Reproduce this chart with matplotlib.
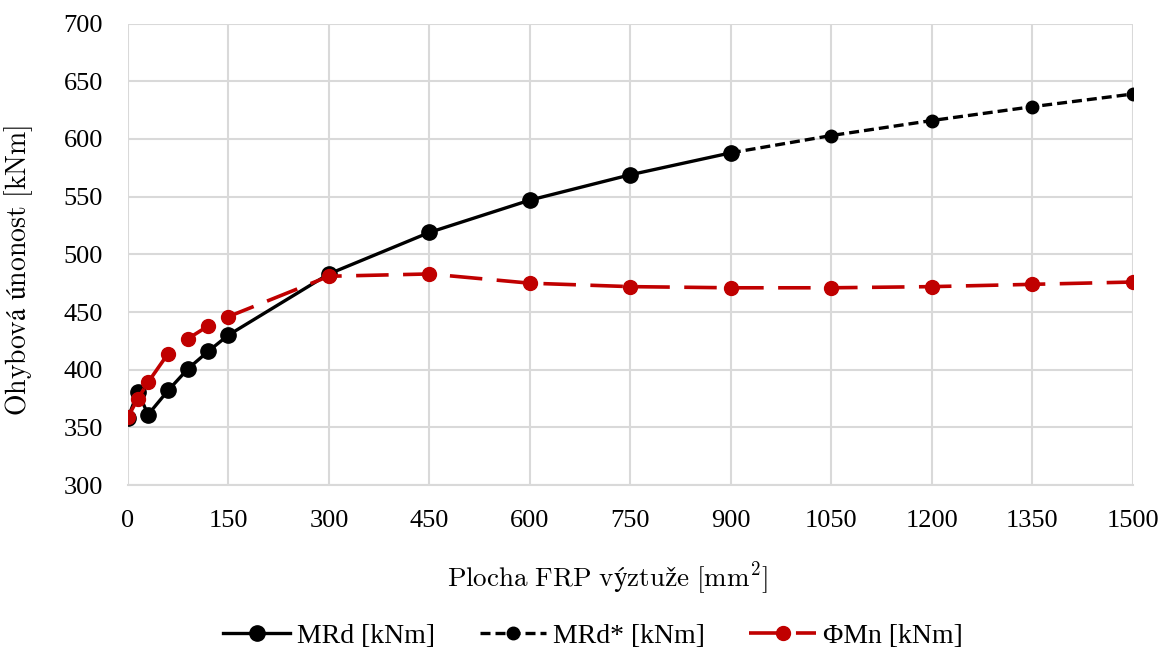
import numpy as np
import matplotlib.pyplot as plt

plt.rcParams['font.family'] = ['Liberation Serif', 'DejaVu Serif']
plt.rcParams['mathtext.fontset'] = 'cm'

# data
x_mrd = [0, 15, 30, 60, 90, 120, 150, 300, 450, 600, 750, 900]
y_mrd = [358, 381, 361, 382, 401, 416, 430, 483, 519, 547, 569, 588]

x_mrd_star = [900, 1050, 1200, 1350, 1500]
y_mrd_star = [588, 603, 616, 628, 639]

x_phi = [0, 15, 30, 60, 90, 120, 150, 300, 450, 600, 750, 900, 1050, 1200, 1350, 1500]
y_phi = [359, 375, 389, 414, 427, 438, 446, 481, 483, 475, 472, 471, 471, 472, 474, 476]

x_ticks = [0, 150, 300, 450, 600, 750, 900, 1050, 1200, 1350, 1500]
y_ticks = np.arange(300, 701, 50)

red = '#C00000'

fig = plt.figure(figsize=(11.63, 6.48), dpi=100)
ax = fig.add_axes([0.110, 0.2515, 0.864, 0.712])

ax.plot(x_mrd, y_mrd, color='black', lw=2.4, marker='o', ms=11,
        label='MRd [kNm]', zorder=3)
ax.plot(x_mrd_star, y_mrd_star, color='black', lw=2.4, ls=(0, (3, 1.5)),
        marker='o', ms=9, label='MRd* [kNm]', zorder=3)
ax.plot(x_phi, y_phi, color=red, lw=2.6, ls=(0, (9, 4)), marker='o', ms=10,
        label='ΦMn [kNm]', zorder=4)

ax.set_xlim(0, 1500)
ax.set_ylim(300, 700)
ax.set_xticks(x_ticks)
ax.set_yticks(y_ticks)
ax.grid(True, color='#d9d9d9', lw=1.5)
ax.set_axisbelow(True)
for s in ['top', 'right', 'left']:
    ax.spines[s].set_visible(False)
ax.spines['bottom'].set_color('#d9d9d9')
ax.spines['bottom'].set_linewidth(1.5)
ax.tick_params(length=0, labelsize=19)
ax.tick_params(axis='y', pad=18)
ax.tick_params(axis='x', pad=18)

ax.set_xlabel(r'$\mathrm{Plocha\ FRP\ výztuže\ [mm^2]}$', fontsize=19.5)
ax.set_ylabel(r'$\mathrm{Ohybová\ únonost\ [kNm]}$', fontsize=20)
ax.xaxis.set_label_coords(0.477, -0.163)
ax.yaxis.set_label_coords(-0.092, 0.466)

fig.legend(loc='center', bbox_to_anchor=(0.51, 0.018), ncol=3, frameon=False,
           fontsize=20, handlelength=2.4, columnspacing=1.6, handletextpad=0.25)

fig.savefig('out.png', dpi=100)
